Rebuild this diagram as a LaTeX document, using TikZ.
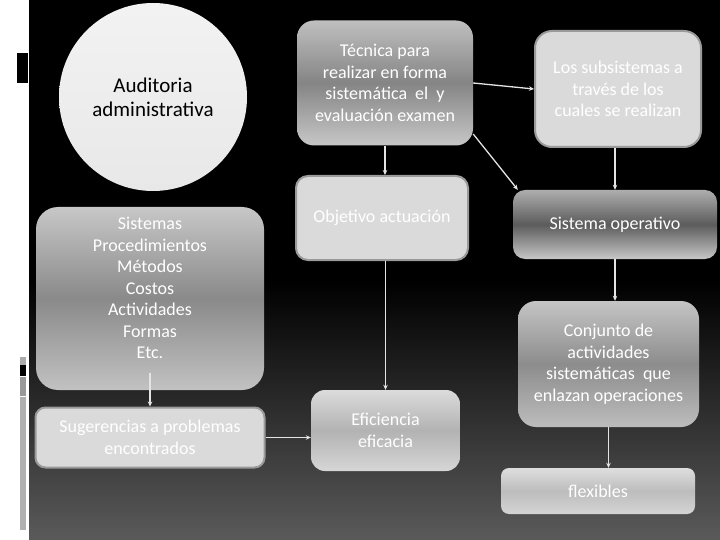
\documentclass[tikz,border=0pt]{standalone}
\usepackage{fontspec}
\setmainfont{Carlito}
\usetikzlibrary{arrows.meta}
\definecolor{lnk}{HTML}{E4E4E4}
\definecolor{bgbot}{HTML}{5A5A5A}
\definecolor{flatfill}{HTML}{DADADA}
\definecolor{flatedge}{HTML}{9A9A9A}
\begin{document}
\begin{tikzpicture}[x=1pt,y=-1pt,
  txt/.style={text=white, align=center, font=\fontsize{18}{21.5}\selectfont, inner sep=0pt},
  box/.style={txt, draw=none},
  flatbox/.style={txt, fill=flatfill, draw=flatedge, line width=2pt},
  conn/.style={draw=lnk, line width=1.3pt, -{Stealth[length=5pt,width=4.5pt]}}
]
\useasboundingbox (0,0) rectangle (720,540);
% background
\fill[white] (0,0) rectangle (720,540);
\fill[black] (29,0) rectangle (720,281);
\shade[top color=black, bottom color=bgbot] (29,280) rectangle (720,540);
% side marks
\fill[black] (17,53) rectangle (28,83);
\fill[black!33] (20,357) rectangle (26,365);
\fill[black] (20,365) rectangle (26,376);
\fill[black!40] (20,377) rectangle (26,396);
\fill[black!31] (20,397) rectangle (26,530);

% circle
\node[circle, minimum size=188pt, inner sep=0pt, top color=black!5, bottom color=black!9,
      align=center, font=\fontsize{21}{24}\selectfont, text=black] (aud) at (153,97)
      {Auditoria\\administrativa};

% boxes
\node[box, rounded corners=17pt, minimum width=176pt, minimum height=125pt,
      top color=black!25, bottom color=black!22, middle color=black!48] (tec) at (385,83)
      {Técnica para\\realizar en forma\\sistemática\ \ el\ \ y\\evaluación examen};
\node[flatbox, rounded corners=17pt, minimum width=166pt, minimum height=116pt] (los) at (618,89)
      {Los subsistemas a\\través de los\\cuales se realizan};
\node[flatbox, rounded corners=12pt, minimum width=172pt, minimum height=84pt] (obj) at (382,218)
      {Objetivo actuación};
\node[box, rounded corners=12pt, minimum width=204pt, minimum height=69pt,
      top color=black!32, bottom color=black!22, middle color=black!64] (so) at (615,224.5)
      {Sistema operativo};
\node[box, rounded corners=22pt, minimum width=228pt, minimum height=183pt,
      top color=black!22, bottom color=black!24, middle color=black!46] (sis) at (150,298.5) {};
\node[txt] (sisT) at (150,288) {Sistemas\\Procedimientos\\Métodos\\Costos\\Actividades\\Formas\\Etc.};
\node[box, rounded corners=18pt, minimum width=181pt, minimum height=126pt,
      top color=black!23, bottom color=black!26, middle color=black!45] (conj) at (608.5,364)
      {Conjunto de\\actividades\\sistemáticas\ \ que\\enlazan operaciones};
\node[flatbox, rounded corners=10pt, minimum width=229pt, minimum height=60pt] (sug) at (150,437.5)
      {Sugerencias a problemas\\encontrados};
\node[box, rounded corners=14pt, minimum width=149pt, minimum height=81pt,
      top color=black!14, bottom color=black!16, middle color=black!30] (efi) at (385.5,430.5)
      {Eficiencia\\eficacia};
\node[box, rounded corners=8pt, minimum width=194pt, minimum height=46pt,
      top color=black!13, bottom color=black!17, middle color=black!26] (flex) at (598,491)
      {flexibles};

% connectors
\draw[conn] (tec.south) -- (tec.south |- obj.north);
\draw[conn] (tec.east) -- (los.west);
\draw[conn] ([yshift=-51pt]tec.east) -- ([xshift=5pt]so.north west);
\draw[conn] (so.north |- los.south) -- (so.north);
\draw[conn] (efi.north |- obj.south) -- (efi.north);
\draw[conn] (so.south) -- (so.south |- conj.north);
\draw[conn] (conj.south) -- (conj.south |- flex.north);
\draw[conn] ([yshift=17pt]sis.south) -- (sug.north);
\draw[conn] (sug.east) -- (sug.east -| efi.west);
\end{tikzpicture}
\end{document}
